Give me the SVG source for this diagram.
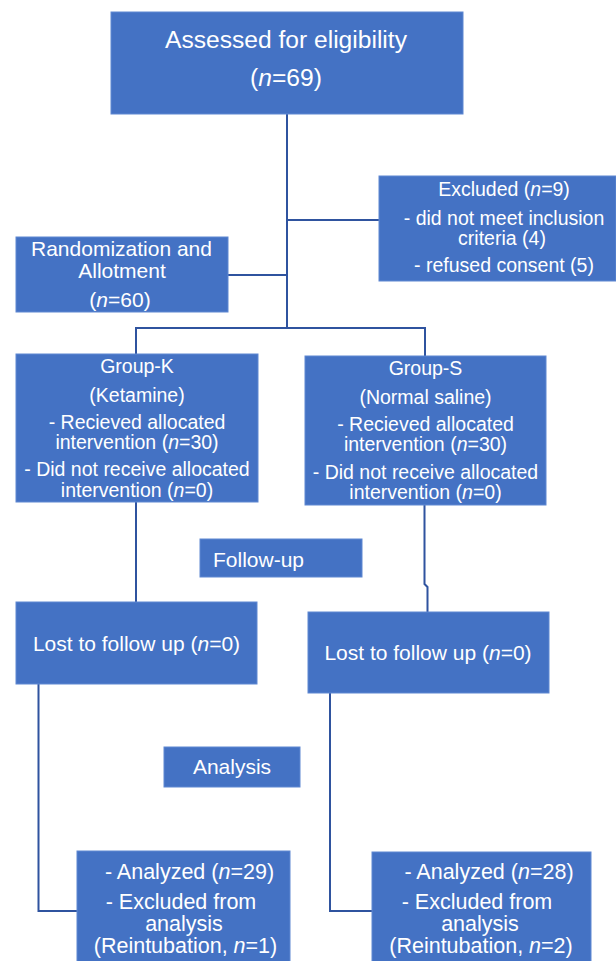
<svg xmlns="http://www.w3.org/2000/svg" width="616" height="961" viewBox="0 0 616 961">
<style>
.box{fill:#4472C4;stroke:#5F88D2;stroke-width:1}
.t{font-family:"Liberation Sans",Arial,sans-serif;font-size:19.5px;fill:#FFFFFF;text-anchor:middle}
.big{font-size:24.6px}
.m{font-size:21px}
.l{font-size:21.5px}
.s{text-anchor:start}
.i{font-style:italic}
.c{fill:none;stroke:#2F539F;stroke-width:2}
</style>
<rect width="616" height="961" fill="#FFFFFF"/>
<g id="connectors">
<path class="c" d="M287 114 V328"/>
<path class="c" d="M287 220 H379"/>
<path class="c" d="M228 275 H287"/>
<path class="c" d="M136 328 H425.5"/>
<path class="c" d="M136 327 V354"/>
<path class="c" d="M425 327 V356"/>
<path class="c" d="M136 502 V602"/>
<path class="c" d="M424.5 505 V584 L427.5 587 V612"/>
<path class="c" d="M38.5 684 V911 H77"/>
<path class="c" d="M330 693 V911 H372"/>
</g>
<g id="assessed">
<rect class="box" x="111" y="12" width="352" height="102"/>
<text class="t big" x="286" y="48">Assessed for eligibility</text>
<text class="t big" x="286" y="86">(<tspan class="i">n</tspan>=69)</text>
</g>
<g id="excluded">
<rect class="box" x="379" y="176" width="237" height="105"/>
<text class="t" x="504" y="196">Excluded (<tspan class="i">n</tspan>=9)</text>
<text class="t" x="504" y="225">- did not meet inclusion</text>
<text class="t" x="502" y="245">criteria (4)</text>
<text class="t" x="504" y="272">- refused consent (5)</text>
</g>
<g id="randomization">
<rect class="box" x="16" y="237" width="212" height="75"/>
<text class="t m" x="121.5" y="256">Randomization and</text>
<text class="t m" x="122" y="278">Allotment</text>
<text class="t m" x="120" y="307">(<tspan class="i">n</tspan>=60)</text>
</g>
<g id="group-k">
<rect class="box" x="16" y="354" width="242" height="148"/>
<text class="t" x="137" y="373">Group-K</text>
<text class="t" x="137" y="402">(Ketamine)</text>
<text class="t" x="137" y="429">- Recieved allocated</text>
<text class="t" x="137" y="449">intervention (<tspan class="i">n</tspan>=30)</text>
<text class="t" x="137" y="476">- Did not receive allocated</text>
<text class="t" x="137" y="497">intervention (<tspan class="i">n</tspan>=0)</text>
</g>
<g id="group-s">
<rect class="box" x="305" y="356" width="241" height="149"/>
<text class="t" x="425.5" y="375">Group-S</text>
<text class="t" x="425.5" y="404">(Normal saline)</text>
<text class="t" x="425.5" y="431">- Recieved allocated</text>
<text class="t" x="425.5" y="451">intervention (<tspan class="i">n</tspan>=30)</text>
<text class="t" x="425.5" y="479">- Did not receive allocated</text>
<text class="t" x="425.5" y="499">intervention (<tspan class="i">n</tspan>=0)</text>
</g>
<g id="follow-up">
<rect class="box" x="200" y="539" width="162" height="38"/>
<text class="t m s" x="213" y="567">Follow-up</text>
</g>
<g id="lost-k">
<rect class="box" x="16" y="602" width="241" height="82"/>
<text class="t m" x="136.5" y="651">Lost to follow up (<tspan class="i">n</tspan>=0)</text>
</g>
<g id="lost-s">
<rect class="box" x="308" y="612" width="241" height="81"/>
<text class="t m" x="428" y="660">Lost to follow up (<tspan class="i">n</tspan>=0)</text>
</g>
<g id="analysis">
<rect class="box" x="164" y="747" width="136" height="40"/>
<text class="t m" x="232" y="774">Analysis</text>
</g>
<g id="analyzed-k">
<rect class="box" x="77" y="851" width="213" height="115"/>
<text class="t l" x="189.5" y="879">- Analyzed (<tspan class="i">n</tspan>=29)</text>
<text class="t l" x="181" y="908.5">- Excluded from</text>
<text class="t l" x="184" y="930.5">analysis</text>
<text class="t l" x="185.5" y="953">(Reintubation, <tspan class="i">n</tspan>=1)</text>
</g>
<g id="analyzed-s">
<rect class="box" x="372" y="852" width="219" height="114"/>
<text class="t l" x="489" y="879">- Analyzed (<tspan class="i">n</tspan>=28)</text>
<text class="t l" x="477" y="908.5">- Excluded from</text>
<text class="t l" x="480" y="930.5">analysis</text>
<text class="t l" x="481" y="953">(Reintubation, <tspan class="i">n</tspan>=2)</text>
</g>
</svg>
